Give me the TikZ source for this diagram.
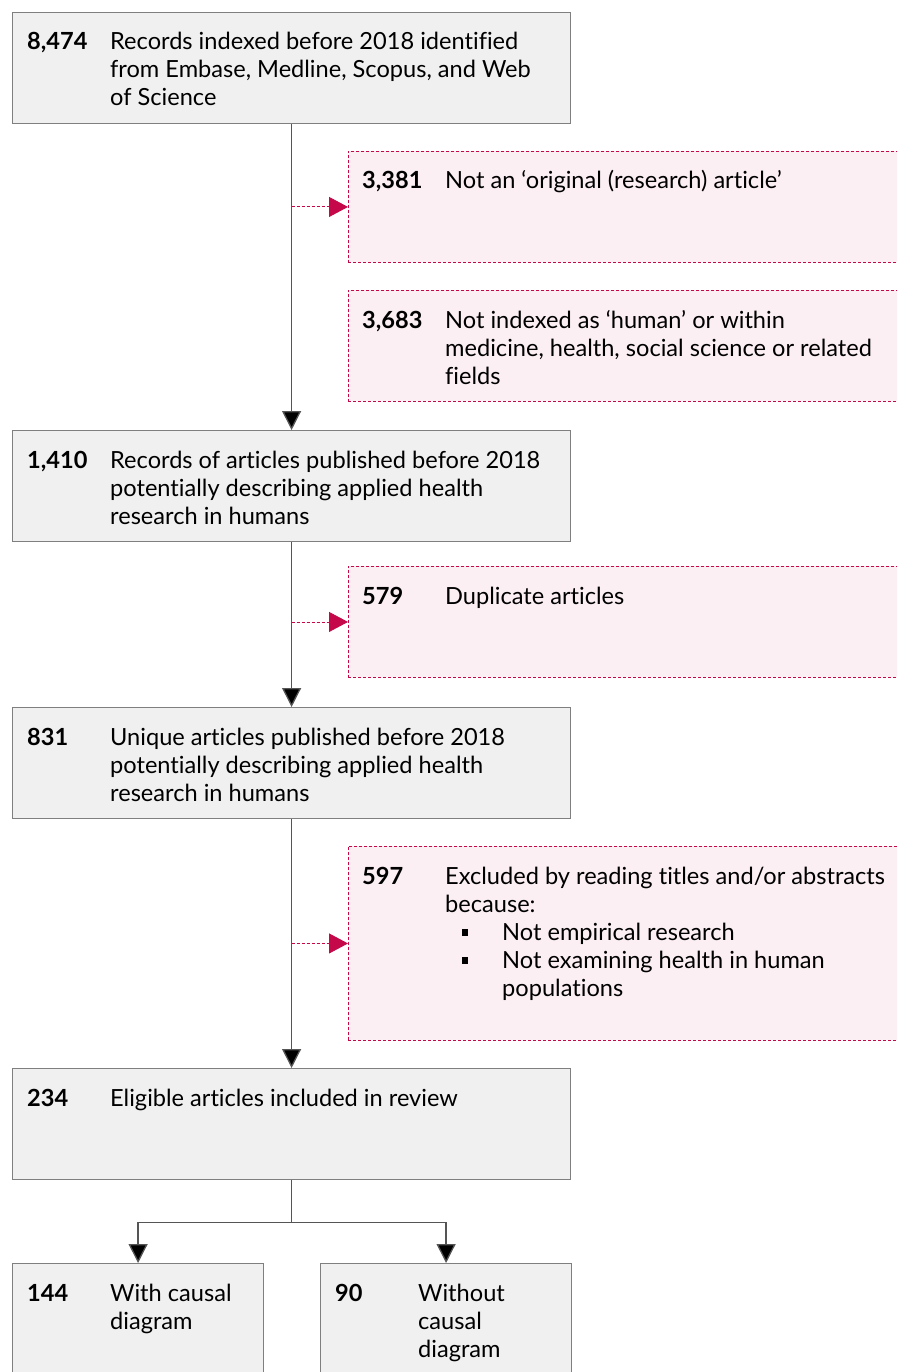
\documentclass[tikz,border=0pt]{standalone}
\usepackage{fontspec}
\setmainfont{Lato}[Ligatures=NoCommon]
\usetikzlibrary{arrows.meta,positioning,calc}

\definecolor{boxgray}{HTML}{F0F0F0}
\definecolor{boxline}{HTML}{7F7F7F}
\definecolor{flowline}{HTML}{555555}
\definecolor{exred}{HTML}{C4084A}
\definecolor{expink}{HTML}{FBEFF3}

\tikzset{
  mainbox/.style={draw=boxline, fill=boxgray, line width=1.2pt, anchor=north west,
    minimum width=558pt, minimum height=111pt, inner sep=0pt},
  exbox/.style={draw=exred, fill=expink, line width=0.9pt, dash pattern=on 3pt off 2pt,
    anchor=north west, minimum width=560pt, minimum height=111pt, inner sep=0pt},
  boxtxt/.style={anchor=base west, inner sep=0pt, font=\fontsize{23.6}{28}\selectfont},
  flow/.style={draw=flowline, line width=1.3pt, -{Triangle[width=19pt,length=19pt,fill=black]}},
  exflow/.style={draw=exred, line width=0.9pt, dash pattern=on 3pt off 2pt,
    -{Triangle[width=20pt,length=19pt,fill=exred]}},
}
\newcommand{\numtxt}[2]{\makebox[83pt][l]{\bfseries #1}\parbox[t]{520pt}{#2}}
\newcommand{\sqbullet}{\makebox[57pt][l]{\hspace{17pt}\raisebox{4.5pt}{\rule{6pt}{6.5pt}}}}

\begin{document}
\begin{tikzpicture}[x=1pt, y=-1pt]
  \useasboundingbox (0,0) rectangle (897,1372);
  \clip (0,0) rectangle (897,1372);

  % main boxes
  \node[mainbox] (rec)  at (12,12)   {};
  \node[mainbox] (pub)  at (12,430)  {};
  \node[mainbox] (uniq) at (12,707)  {};
  \node[mainbox] (elig) at (12,1068) {};
  \node[mainbox, minimum width=251pt, minimum height=150pt] (with)    at (12,1263)  {};
  \node[mainbox, minimum width=251pt, minimum height=150pt] (without) at (320,1263) {};

  % exclusion boxes
  \node[exbox] (orig)  at (348,151) {};
  \node[exbox] (human) at (348,290) {};
  \node[exbox] (dup)   at (348,566) {};
  \node[exbox, minimum height=194pt] (title) at (348,846) {};

  % texts
  \node[boxtxt] at ($(rec.north west)+(15,38)$)
    {\numtxt{8,474}{Records indexed before 2018 identified\\from Embase, Medline, Scopus, and Web\\of Science}};
  \node[boxtxt] at ($(orig.north west)+(14,38)$)
    {\numtxt{3,381}{Not an ‘original (research) article’}};
  \node[boxtxt] at ($(human.north west)+(14,38)$)
    {\numtxt{3,683}{Not indexed as ‘human’ or within\\medicine, health, social science or related\\fields}};
  \node[boxtxt] at ($(pub.north west)+(15,38)$)
    {\numtxt{1,410}{Records of articles published before 2018\\potentially describing applied health\\research in humans}};
  \node[boxtxt] at ($(dup.north west)+(14,38)$)
    {\numtxt{579}{Duplicate articles}};
  \node[boxtxt] at ($(uniq.north west)+(15,38)$)
    {\numtxt{831}{Unique articles published before 2018\\potentially describing applied health\\research in humans}};
  \node[boxtxt] at ($(title.north west)+(14,38)$)
    {\numtxt{597}{Excluded by reading titles and/or abstracts\\because:\\
      \sqbullet Not empirical research\\
      \sqbullet Not examining health in human\\
      \hspace*{57pt}populations}};
  \node[boxtxt] at ($(elig.north west)+(15,38)$)
    {\numtxt{234}{Eligible articles included in review}};
  \node[boxtxt] at ($(with.north west)+(15,38)$)
    {\numtxt{144}{With causal\\diagram}};
  \node[boxtxt] at ($(without.north west)+(15,38)$)
    {\numtxt{90}{Without\\causal\\diagram}};

  % connectors
  \draw[flow] (rec.south) -- (pub.north);
  \draw[flow] (pub.south) -- (uniq.north);
  \draw[flow] (uniq.south) -- (elig.north);
  \draw[exflow] (orig.west -| rec.south) -- (orig.west);
  \draw[exflow] (dup.west -| pub.south) -- (dup.west);
  \draw[exflow] (title.west -| uniq.south) -- (title.west);

  \coordinate (fork) at ($(elig.south)+(0,42)$);
  \draw[draw=flowline, line width=1.3pt] (elig.south) -- (fork);
  \draw[flow] (fork) -| (with.north);
  \draw[flow] (fork) -| (without.north);
\end{tikzpicture}
\end{document}
